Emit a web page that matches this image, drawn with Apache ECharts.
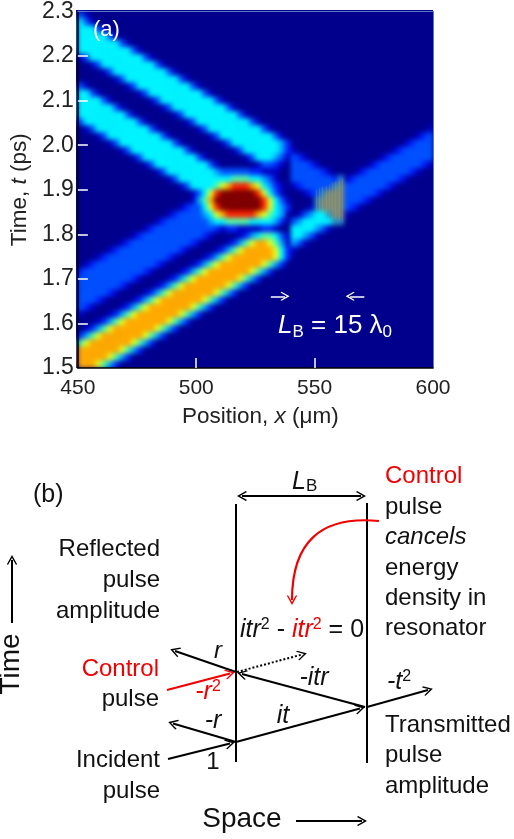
<!DOCTYPE html>
<html><head><meta charset="utf-8">
<style>html,body{margin:0;padding:0;background:#fff}
#plotbg{position:absolute;left:76px;top:10px;width:357px;height:358px;background:#00008c}
#c{position:absolute;left:0;top:0;width:514px;height:839px}</style>
<script src="https://cdn.jsdelivr.net/npm/echarts@6/dist/echarts.min.js"></script>
</head><body><div id="plotbg"></div><div id="c"></div>
<script>
// Intensity levels: one string per time row (top = 2.3 ps), one char per 2.5 um column.
const intensityRows = [
"31",
"531",
"55531",
"5555531",
"555555531",
"55555555531",
"1355555555531",
"001355555555531",
"00001355555555531",
"0000001355555555531",
"310000001355555555531",
"55310000001355555555531",
"5555310000001355555555531",
"555555310000001355555555531",
"55555555310000001355555555531",
"3555555555310000001355555555531",
"013555555555310000001355555555531"+"00000000000000000000000000"+"1",
"00013555555555310000001355555555531"+"0000000000000000000000"+"123",
"000001355555555531000000135555555542"+"0000000000000000000"+"12333",
"000000013555555555310000001355555542"+"1"+"0000000000000000"+"1233333",
"000000000135555555553100000013555431"+"321"+"000000000000"+"123333333",
"00000000000"+"1355555555531"+"000000"+"13321"+"0"+"33321"+"00000000"+"12333333321",
"0000000000000"+"1355555555433"+"33322111"+"00"+"3333321"+"0000"+"12333333321",
"000000000000000"+"135"+"55555555"+"666"+"55"+"431"+"00"+"3333333"+"2c"+"12333333321",
"00000000000000000"+"135555"+"67899987"+"5421"+"0"+"1233333"+"cb"+"333333321",
"0000000000000000000"+"13579aaaaaa97531"+"000"+"123"+"cbbb"+"3333321",
"0000000000000000000"+"1468aaaaaaaa97531"+"0000"+"cbbbb"+"33321",
"00000000000000000"+"12"+"33"+"579"+"aaaaaaa"+"97542"+"000"+"1"+"cbbbb"+"321",
"000000000000000"+"12"+"3333"+"4578"+"99999"+"876541"+"0"+"13455"+"c"+"bb"+"1",
"0000000000000"+"12"+"3333333"+"4556666555542"+"0"+"345555"+"5"+"cc",
"00000000000"+"12"+"3333333333"+"21"+"221111221"+"00"+"5555431",
"000000000"+"12"+"3333333333"+"21"+"0000"+"124566531"+"55431",
"0000000"+"12333333333321"+"0000"+"12467"+"88"+"7641"+"431",
"00000"+"12333333333321"+"0000"+"12467"+"88888"+"752"+"1",
"000"+"12333333333321"+"0000"+"12467"+"8888888"+"752",
"0"+"12333333333321"+"0000"+"1246788888887642",
"2333333333321"+"0000"+"1246788888887642",
"33333333321"+"0000"+"1246788888887642",
"333333321"+"0000"+"1246788888887642",
"3333321"+"0000"+"1246788888887642",
"33321"+"0000"+"1246788888887642",
"321"+"0000"+"1246788888887642",
"1"+"0000"+"1246788888887642",
"000"+"1246788888887642",
"0"+"1246788888887642",
"246788888887642",
"6788888887642",
"88888887642",
"888887642",
"8887642"
];
const levelColors = ['#00008c','#0000c4','#0024ff','#0050ff','#00a4ff','#00f4ff','#50ffa8','#e4ff20','#ffaa00','#ff2400','#800000','#7f8c78','#2f8cc0'];
const xTickValues = [450,500,550,600];
const yRange = [1.5,2.3];
const xRange = [450,600];
// interference fringes inside the resonator, um / ps
const fringes = [
 [[550.5,1.853],[550.5,1.900]],[[551.9,1.850],[551.9,1.903]],[[553.3,1.847],[553.3,1.906]],
 [[554.7,1.844],[554.7,1.909]],[[556.1,1.841],[556.1,1.912]],[[557.5,1.838],[557.5,1.915]],
 [[558.9,1.835],[558.9,1.918]],[[560.3,1.832],[560.3,1.921]],[[561.7,1.828],[561.7,1.925]]
];
// marker arrows on panel (a), in um / ps
const lbMarkers = [[[531.5,1.661],[537.5,1.661]],[[571,1.661],[565,1.661]]];
// panel (b) schematic segments, in page-scale diagram units
const mirrors = [[[236,504],[236,762]],[[367,503],[367,763]]];
const blackArrows = [
 [[236,672],[175,651]],
 [[365,707],[242,674]],
 [[367,707],[428,690]],
 [[236,742],[360,708.5]],
 [[236,742],[173,723.5]],
 [[168,759],[230,743.5]],
 [[296,821],[362,821]]
];
const timeArrow = [[[12,623],[12,560]]];
const redArrows = [[[167,690],[230,673.5]]];
const redCurve = [[[379,521],[292,600]]];
const dottedArrow = [[[237,672],[302,654.5]]];
const lbSpan = [[[242,496],[361,496]]];

const chevron='path://M0 0L11 12L9 13.5L0 4L-9 13.5L-11 12Z';
const ff='"Liberation Sans",Arial,sans-serif';
const heat=[];
intensityRows.forEach((s,j)=>{const r=s.padEnd(60,'0');for(let i=0;i<60;i++)heat.push([i,49-j,parseInt(r[i],36)]);});
const colCats=Array.from({length:60},(_,i)=>i), rowCats=Array.from({length:50},(_,i)=>i);

function lineSeries(data,color,width,type,sym,curve){
 return {type:'lines',coordinateSystem:'cartesian2d',xAxisIndex:2,yAxisIndex:2,silent:true,animation:false,z:5,
  symbol:sym,symbolSize:10,
  lineStyle:{color:color,width:width,type:type,opacity:1,curveness:curve||0},
  data:data.map(c=>({coords:c}))};
}
function rich(){return {
 n:{fontSize:25,fontFamily:ff,fill:'#111',lineHeight:26},
 i:{fontSize:25,fontFamily:ff,fontStyle:'italic',fill:'#111',lineHeight:26},
 s:{fontSize:16,fontFamily:ff,fill:'#111',verticalAlign:'top',lineHeight:26},
 ri:{fontSize:25,fontFamily:ff,fontStyle:'italic',fill:'#f00000',lineHeight:26},
 rn:{fontSize:25,fontFamily:ff,fill:'#f00000',lineHeight:26},
 rs:{fontSize:16,fontFamily:ff,fill:'#f00000',verticalAlign:'top',lineHeight:26},
 w:{fontSize:26,fontFamily:ff,fill:'#fff',lineHeight:30},
 wi:{fontSize:26,fontFamily:ff,fontStyle:'italic',fill:'#fff',lineHeight:30},
 wb:{fontSize:17,fontFamily:ff,fill:'#fff',verticalAlign:'bottom',lineHeight:30},
 b:{fontSize:17,fontFamily:ff,fill:'#111',verticalAlign:'bottom',lineHeight:26}
};}
function T(text,x,y,o){o=o||{};return {type:'text',x:x,y:y,rotation:o.rot||0,silent:true,z:10,
 style:{text:text,fontFamily:ff,fontSize:o.size||24,fontStyle:o.it?'italic':'normal',fill:o.fill||'#111',align:o.align||'left',verticalAlign:'middle',rich:rich()}};}
const R='#f00000';
const texts=[
 T('(a)',93,30,{size:22,fill:'#fff'}),
 T('{wi|L}{wb|B}{w| = 15 λ}{wb|0}',278,326,{}),
 T('(b)',33,495,{size:25}),
 T('{i|L}{b|B}',292,482,{}),
 T('Control',385,476,{fill:R}),
 T('pulse',385,507),T('cancels',385,537,{it:true}),T('energy',385,568),T('density in',385,598),T('resonator',385,628),
 T('Reflected',160,549,{align:'right'}),T('pulse',160,580,{align:'right'}),T('amplitude',160,611,{align:'right'}),
 T('Control',159,669,{align:'right',fill:R}),T('pulse',159,699,{align:'right'}),
 T('Incident',160,760,{align:'right'}),T('pulse',160,791,{align:'right'}),
 T('Transmitted',385,725),T('pulse',385,755),T('amplitude',385,786),
 T('1',213,762,{align:'center'}),
 T('r',218,651,{align:'center',it:true}),
 T('{ri|-r}{rs|2}',208,692,{align:'center'}),
 T('{i|-r}',213,721,{align:'center'}),
 T('{i|it}',283,716,{align:'center'}),
 T('{i|-itr}',314,678,{align:'center'}),
 T('{i|-t}{s|2}',399,682,{align:'center'}),
 T('{i|itr}{s|2}{n| - }{ri|itr}{rs|2}{n| = 0}',240,630),
 T('Time',11,664,{size:28,rot:Math.PI/2,align:'center'}),
 T('Space',242,819,{size:28,align:'center'})
];
const chart=echarts.init(document.getElementById('c'),null,{renderer:'canvas'});
const hidden={show:false};
chart.setOption({
 animation:false,backgroundColor:'transparent',
 grid:[{left:76,top:10,width:357,height:358,containLabel:false},{left:0,top:460,width:514,height:379}],
 visualMap:[{show:false,type:'continuous',seriesIndex:0,min:0,max:12,dimension:2,inRange:{color:levelColors}}],
 xAxis:[
  {type:'category',gridIndex:0,position:'top',data:colCats,axisLine:{lineStyle:{color:'#5c78c8',width:1}},axisTick:hidden,axisLabel:hidden,splitLine:hidden},
  {type:'value',gridIndex:0,position:'bottom',min:xRange[0],max:xRange[1],interval:50,
   axisLine:{show:true,lineStyle:{color:'#000',width:1.5}},
   axisTick:{show:true,inside:true,length:10,customValues:[500,550],lineStyle:{color:'#fff',width:1.5}},
   axisLabel:{show:true,color:'#222',fontFamily:ff,fontSize:21,margin:10,customValues:xTickValues},
   splitLine:hidden,
   name:'{n|Position, }{i|x}{n| (μm)}',nameLocation:'middle',nameGap:37,
   nameTextStyle:{padding:[0,0,0,10],rich:{n:{fontSize:22.5,fontFamily:ff,color:'#222'},i:{fontSize:22.5,fontFamily:ff,fontStyle:'italic',color:'#222'}}}},
  {type:'value',gridIndex:1,min:0,max:514,show:false}
 ],
 yAxis:[
  {type:'category',gridIndex:0,position:'right',data:rowCats,axisLine:{lineStyle:{color:'#5c78c8',width:1}},axisTick:hidden,axisLabel:hidden,splitLine:hidden},
  {type:'value',gridIndex:0,position:'left',min:yRange[0],max:yRange[1],interval:0.1,
   axisLine:{show:true,lineStyle:{color:'#000',width:1.5}},
   axisTick:{show:true,inside:true,length:10,customValues:[1.6,1.7,1.8,1.9,2.0,2.1,2.2],lineStyle:{color:'#fff',width:1.5}},
   axisLabel:{show:true,color:'#222',fontFamily:ff,fontSize:23,margin:4,formatter:v=>v.toFixed(1)},
   splitLine:hidden,
   name:'{n|Time, }{i|t}{n| (ps)}',nameLocation:'middle',nameGap:46,nameRotate:90,
   nameTextStyle:{rich:{n:{fontSize:22.5,fontFamily:ff,color:'#222'},i:{fontSize:22.5,fontFamily:ff,fontStyle:'italic',color:'#222'}}}},
  {type:'value',gridIndex:1,min:460,max:839,inverse:true,show:false}
 ],
 series:[
  {type:'heatmap',xAxisIndex:0,yAxisIndex:0,data:heat,zlevel:-1,silent:true,progressive:0,itemStyle:{borderWidth:0}},
  {type:'lines',coordinateSystem:'cartesian2d',xAxisIndex:1,yAxisIndex:1,silent:true,animation:false,z:4,symbol:['none','none'],
   lineStyle:{color:'#a8a060',width:1.3,opacity:0.28},data:fringes.map(c=>({coords:c}))},
  {type:'lines',coordinateSystem:'cartesian2d',xAxisIndex:1,yAxisIndex:1,silent:true,animation:false,z:5,symbol:['none',chevron],symbolSize:9,
   lineStyle:{color:'#fff',width:1.5,opacity:1},data:lbMarkers.map(c=>({coords:c}))},
  lineSeries(mirrors,'#000',2,'solid',['none','none']),
  lineSeries(blackArrows,'#000',2,'solid',['none',chevron]),
  lineSeries(timeArrow,'#000',2,'solid',['none',chevron]),
  lineSeries(redArrows,'#f00000',2.2,'solid',['none',chevron]),
  lineSeries(redCurve,'#f00000',2.2,'solid',['none',chevron],-0.55),
  lineSeries(dottedArrow,'#000',2,[2,2],['none',chevron]),
  lineSeries(lbSpan,'#000',2,'solid',[chevron,chevron])
 ],
 graphic:texts
});
const cv=document.querySelector('#c canvas');
if(cv){cv.style.filter='blur(2.4px)';cv.style.clipPath='inset(10px 81px 471px 76px)';}
</script></body></html>
